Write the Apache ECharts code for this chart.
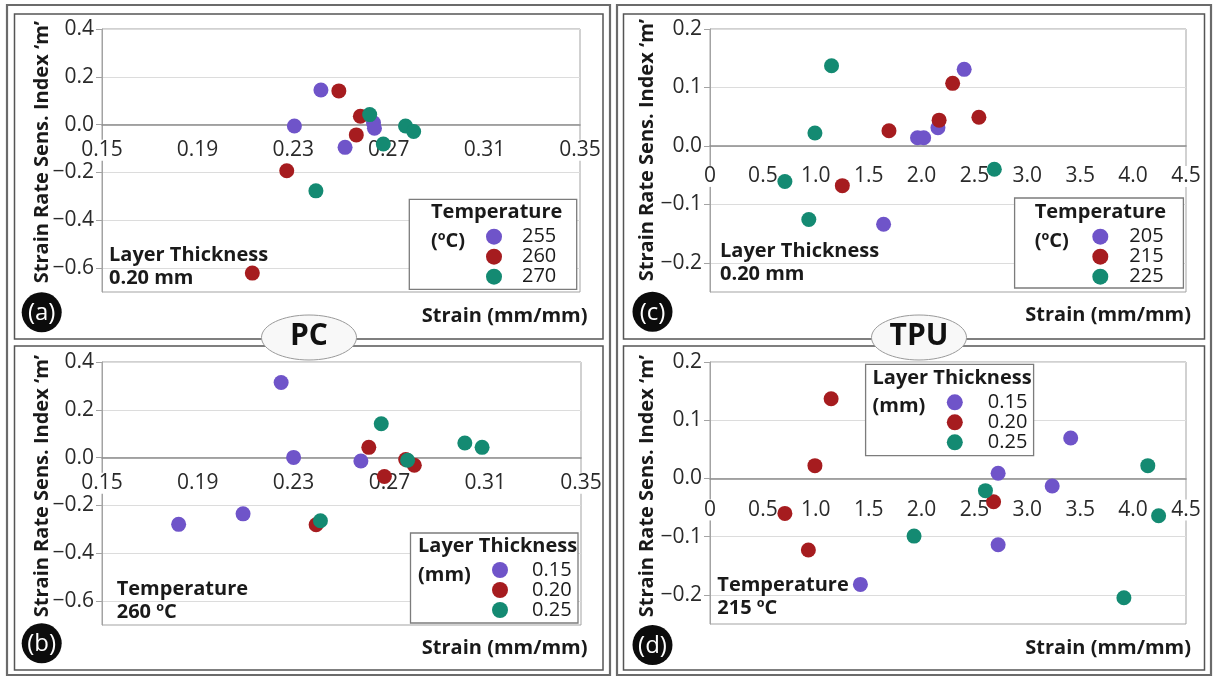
<!DOCTYPE html>
<html>
<head>
<meta charset="utf-8">
<script src="https://cdn.jsdelivr.net/npm/echarts@6/dist/echarts.min.js"></script>
<style>
  html, body { margin: 0; padding: 0; background: #ffffff; }
  #chart { width: 1215px; height: 677px; }
</style>
</head>
<body>
<div id="chart"></div>
<script>
// ---- PC, layer thickness 0.20 mm: points per printing temperature (strain, m) ----
const pcTempNames = ['255', '260', '270'];
const pcT255 = [[0.2416, 0.145], [0.2305, -0.006], [0.2517, -0.095], [0.2636, 0.008], [0.2640, -0.015]];
const pcT260 = [[0.2491, 0.141], [0.2581, 0.035], [0.2564, -0.043], [0.2273, -0.193], [0.2129, -0.621]];
const pcT270 = [[0.2620, 0.042], [0.2677, -0.081], [0.2770, -0.006], [0.2804, -0.029], [0.2395, -0.277]];

// ---- PC, 260 °C: points per layer thickness ----
const pcLayerNames = ['0.15', '0.20', '0.25'];
const pcL015 = [[0.2248, 0.314], [0.2300, 0.001], [0.2581, -0.014], [0.1820, -0.279], [0.2089, -0.235]];
const pcL020 = [[0.2614, 0.043], [0.2679, -0.079], [0.2768, -0.008], [0.2804, -0.032], [0.2394, -0.281]];
const pcL025 = [[0.2666, 0.142], [0.2776, -0.011], [0.3015, 0.061], [0.3087, 0.043], [0.2412, -0.264]];

// ---- TPU, layer thickness 0.20 mm: points per printing temperature ----
const tpuTempNames = ['205', '215', '225'];
const tpuT205 = [[2.403, 0.131], [1.962, 0.014], [2.020, 0.014], [2.155, 0.031], [1.641, -0.134]];
const tpuT215 = [[2.294, 0.107], [2.166, 0.044], [2.542, 0.049], [1.692, 0.026], [1.251, -0.068]];
const tpuT225 = [[1.149, 0.137], [0.992, 0.022], [0.708, -0.061], [0.934, -0.126], [2.688, -0.040]];

// ---- TPU, 215 °C: points per layer thickness ----
const tpuLayerNames = ['0.15', '0.20', '0.25'];
const tpuL015 = [[3.410, 0.0695], [2.724, 0.009], [3.235, -0.013], [2.724, -0.114], [1.422, -0.182]];
const tpuL020 = [[1.145, 0.137], [0.992, 0.022], [0.708, -0.060], [0.930, -0.123], [2.681, -0.040]];
const tpuL025 = [[4.139, 0.022], [2.604, -0.021], [1.929, -0.099], [4.241, -0.064], [3.913, -0.205]];

// ---- tick labels ----
const pcStrainTicks = [0.15, 0.19, 0.23, 0.27, 0.31, 0.35];
const pcIndexTicks = [-0.6, -0.4, -0.2, 0, 0.2, 0.4];
const tpuStrainTicks = [0, 0.5, 1.0, 1.5, 2.0, 2.5, 3.0, 3.5, 4.0, 4.5];
const tpuIndexTicks = [-0.2, -0.1, 0, 0.1, 0.2];

const FONT = '"Open Sans", "DejaVu Sans", sans-serif';
const COLORS = ['#6f54c9', '#a61c1f', '#148a72'];
const TEXT = '#1a1a1a';
const LABEL = '#2a2a2a';

// plot boxes: the strain axis is lifted from the bottom edge to the m = 0 level
const grids = [
  { left: 102, top: 29, width: 478, height: 263, yMin: -0.7, yMax: 0.4 },
  { left: 102, top: 362, width: 479, height: 263, yMin: -0.7, yMax: 0.4 },
  { left: 710, top: 29, width: 476, height: 263, yMin: -0.25, yMax: 0.2 },
  { left: 710, top: 362, width: 476, height: 262, yMin: -0.25, yMax: 0.2 }
];
const zeroOffset = gr => -gr.height * (0 - gr.yMin) / (gr.yMax - gr.yMin);

const signed = (v, d) => (v < 0 ? '\u2212' : '') + Math.abs(v).toFixed(d);

function xAxisFor(idx, min, max, interval, ticks, digits, margin) {
  return {
    type: 'value', gridIndex: idx, min: min, max: max, interval: interval,
    position: 'bottom', offset: zeroOffset(grids[idx]),
    axisLine: { show: true, onZero: false, lineStyle: { color: '#8c8c8c', width: 1.5 } },
    axisTick: { show: false },
    splitLine: { show: false },
    axisLabel: {
      customValues: ticks,
      formatter: v => (v === 0 && digits === 1 ? '0' : v.toFixed(digits)),
      fontFamily: FONT, fontSize: 21, color: LABEL, margin: margin,
      backgroundColor: '#ffffff', padding: [0, 2]
    }
  };
}

function yAxisFor(idx, interval, ticks) {
  return {
    type: 'value', gridIndex: idx, min: grids[idx].yMin, max: grids[idx].yMax, interval: interval,
    axisLine: { show: true, onZero: false, lineStyle: { color: '#a3a3a3', width: 1 } },
    axisTick: { show: true, customValues: ticks, length: 6, lineStyle: { color: '#a3a3a3' } },
    axisLabel: {
      customValues: ticks,
      formatter: v => signed(v, 1),
      fontFamily: FONT, fontSize: 21, color: LABEL, margin: 8
    },
    splitLine: { show: true, lineStyle: { color: '#dcdcdc', width: 1 } }
  };
}

function scatter(name, data, idx, colorIdx) {
  return {
    type: 'scatter', name: name, data: data,
    xAxisIndex: idx, yAxisIndex: idx,
    symbol: 'circle', symbolSize: 15,
    itemStyle: { color: COLORS[colorIdx], opacity: 1 },
    emphasis: { disabled: true },
    z: 3
  };
}

function legendFor(names, left, top, textPad) {
  return {
    data: names, left: left, top: top, orient: 'vertical',
    icon: 'circle', itemWidth: 16, itemHeight: 16, itemGap: 0, padding: 0,
    selectedMode: false,
    textStyle: { fontFamily: FONT, fontSize: 20, lineHeight: 20, color: TEXT, padding: [0, 0, 0, textPad] },
    z: 6
  };
}

// ---- drawn decorations: frames, badges, titles and notes ----
const g = [];
function frame(x, y, w, h, stroke, lw) {
  g.push({ type: 'rect', z: 1, silent: true, shape: { x: x, y: y, width: w, height: h },
           style: { fill: 'none', stroke: stroke, lineWidth: lw } });
}
function text(str, x, y, opts) {
  g.push(Object.assign({ type: 'text', z: 7, silent: true, x: x, y: y,
    style: Object.assign({ text: str, fontFamily: FONT, fontSize: 20, fontWeight: 'bold',
                           fill: TEXT, align: 'left', verticalAlign: 'middle' }, opts.style || {}) },
    opts.el || {}));
}
function badge(label, cx, cy) {
  g.push({ type: 'circle', z: 7, silent: true, shape: { cx: cx, cy: cy, r: 20 }, style: { fill: '#0c0c0c' } });
  text(label, cx, cy + 1, { style: { fontWeight: 'normal', fontSize: 24, fill: '#ffffff', align: 'center' } });
}
function materialTag(label, cx) {
  g.push({ type: 'ellipse', z: 8, silent: true, shape: { cx: cx, cy: 337.5, rx: 47.5, ry: 22.5 },
           style: { fill: '#f8f8f8', stroke: '#9a9a9a', lineWidth: 1 } });
  text(label, cx, 336, { el: { z: 9 }, style: { fontSize: 30, fill: '#111111', align: 'center' } });
}
function legendBox(x, y, w, h, title, unit, tx, ty1, ty2) {
  g.push({ type: 'rect', z: 5, silent: true, shape: { x: x, y: y, width: w, height: h },
           style: { fill: '#ffffff', stroke: '#7c7c7c', lineWidth: 1.3 } });
  text(title, tx, ty1, {});
  text(unit, tx, ty2, {});
}
function yTitle(x, y) {
  text('Strain Rate Sens. Index \u2018m\u2019', x, y,
       { el: { rotation: Math.PI / 2 }, style: { align: 'center' } });
}
function xTitle(x, y) {
  text('Strain (mm/mm)', x, y, { style: { align: 'right' } });
}
function note(str, x, top) {
  text(str, x, top, { style: { verticalAlign: 'top', lineHeight: 23 } });
}

// outer column frames and inner panel frames
frame(7, 5, 603, 670, '#6b6b6b', 2.2);
frame(617, 5, 594, 670, '#6b6b6b', 2.2);
frame(14.5, 14, 588.5, 325, '#555555', 1.5);
frame(14.5, 346, 588.5, 324, '#555555', 1.5);
frame(623.5, 14, 581, 325, '#555555', 1.5);
frame(623.5, 346, 581, 324, '#555555', 1.5);

materialTag('PC', 309);
materialTag('TPU', 919);

badge('(a)', 41.7, 312.3);
badge('(b)', 41.7, 643.3);
badge('(c)', 652.5, 311.7);
badge('(d)', 652.5, 645);

yTitle(42, 152);
yTitle(42, 486);
yTitle(647.5, 150);
yTitle(647.5, 486);

xTitle(587.5, 316.7);
xTitle(587.5, 648.3);
xTitle(1191, 315);
xTitle(1191, 648.3);

note('Layer Thickness\n0.20 mm', 109, 244);
note('Temperature\n260 \u00baC', 116.7, 577.5);
note('Layer Thickness\n0.20 mm', 720, 240);
note('Temperature\n215 \u00baC', 717.3, 573.5);

legendBox(409.3, 199.3, 167.4, 90, 'Temperature', '(\u00baC)', 431, 212.5, 241);
legendBox(410.5, 533, 167.5, 90, 'Layer Thickness', '(mm)', 418, 546, 575);
legendBox(1014.6, 198, 168.8, 90, 'Temperature', '(\u00baC)', 1034.7, 212, 241);
legendBox(865.6, 364.3, 168, 91.4, 'Layer Thickness', '(mm)', 872.5, 378.3, 406.7);

const chart = echarts.init(document.getElementById('chart'), null, { renderer: 'canvas' });
chart.setOption({
  backgroundColor: '#ffffff',
  animation: false,
  grid: grids.map(gr => ({
    left: gr.left, top: gr.top, width: gr.width, height: gr.height,
    show: true, borderColor: '#a3a3a3', borderWidth: 1, backgroundColor: 'transparent'
  })),
  xAxis: [
    xAxisFor(0, 0.15, 0.35, 0.01, pcStrainTicks, 2, 15),
    xAxisFor(1, 0.15, 0.35, 0.01, pcStrainTicks, 2, 15),
    xAxisFor(2, 0, 4.5, 0.5, tpuStrainTicks, 1, 20),
    xAxisFor(3, 0, 4.5, 0.5, tpuStrainTicks, 1, 21)
  ],
  yAxis: [
    yAxisFor(0, 0.1, pcIndexTicks),
    yAxisFor(1, 0.1, pcIndexTicks),
    yAxisFor(2, 0.05, tpuIndexTicks),
    yAxisFor(3, 0.05, tpuIndexTicks)
  ],
  legend: [
    legendFor(pcTempNames, 486, 226.7, 15),
    legendFor(pcLayerNames, 492, 560, 19),
    legendFor(tpuTempNames, 1092.3, 226.7, 16),
    legendFor(tpuLayerNames, 946.8, 392.3, 20)
  ],
  series: [
    scatter(pcTempNames[0], pcT255, 0, 0),
    scatter(pcTempNames[1], pcT260, 0, 1),
    scatter(pcTempNames[2], pcT270, 0, 2),
    scatter(pcLayerNames[0], pcL015, 1, 0),
    scatter(pcLayerNames[1], pcL020, 1, 1),
    scatter(pcLayerNames[2], pcL025, 1, 2),
    scatter(tpuTempNames[0], tpuT205, 2, 0),
    scatter(tpuTempNames[1], tpuT215, 2, 1),
    scatter(tpuTempNames[2], tpuT225, 2, 2),
    scatter(tpuLayerNames[0], tpuL015, 3, 0),
    scatter(tpuLayerNames[1], tpuL020, 3, 1),
    scatter(tpuLayerNames[2], tpuL025, 3, 2)
  ],
  graphic: { elements: g }
});
</script>
</body>
</html>
